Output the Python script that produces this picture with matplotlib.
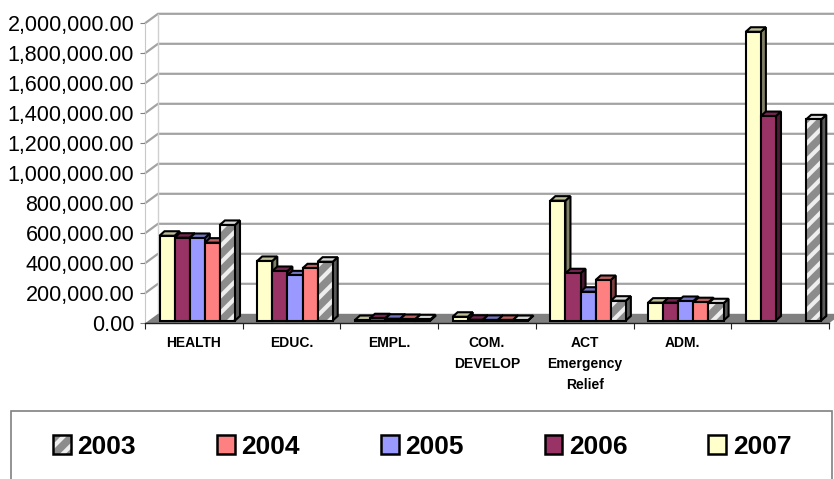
import numpy as np
import matplotlib
matplotlib.use('Agg')
import matplotlib.pyplot as plt
from matplotlib.patches import Patch, Polygon, Rectangle
from matplotlib.legend_handler import HandlerTuple

categories = ['HEALTH', 'EDUC.', 'EMPL.', 'COM.\nDEVELOP', 'ACT\nEmergency\nRelief', 'ADM.', '']
years = ['2003', '2004', '2005', '2006', '2007']

# amounts per category, nan where a year has no bar
v2007 = [565000, 397000, 3000, 25000, 799000, 119000, 1925000]
v2006 = [552000, 330000, 15000, 5000, 315000, 119000, 1363000]
v2005 = [550000, 301000, 12000, 4000, 192000, 130000, np.nan]
v2004 = [519000, 348000, 10000, 4000, 270000, 122000, np.nan]
v2003 = [637000, 392000, 8000, 3000, 132000, 115000, 1341000]
yticks = list(range(0, 2000001, 200000))

plt.rcParams['font.family'] = ['Liberation Sans', 'DejaVu Sans']
plt.rcParams['hatch.linewidth'] = 3.0

W, H = 834, 479
fig = plt.figure(figsize=(W / 100, H / 100), dpi=100)
ax = fig.add_axes([145 / W, 1 - 323.3 / H, (829 - 145) / W, 300 / H])
ax.set_xlim(0, 7)
ax.set_ylim(0, 2000000)
ax.patch.set_visible(False)

px_x = 7 / (829 - 145)
px_y = 2000000 / 300


def dark(color, k):
    r, g, b = matplotlib.colors.to_rgb(color)
    return (r * k, g * k, b * k)


# back wall, side wall and floor
wall_dx = 13 * px_x
wall_dy = 9.5 * px_y
grid_c = '#a3a3a3'
for t in yticks[1:]:
    ax.plot([0, wall_dx, 7 + wall_dx], [t, t + wall_dy, t + wall_dy], color=grid_c, lw=1.6,
            clip_on=False, zorder=1, solid_capstyle='butt')
ax.plot([wall_dx, wall_dx], [wall_dy, 2000000 + wall_dy], color='#d0d0d0', lw=1, clip_on=False, zorder=1)
ax.add_patch(Polygon([(0, 0), (wall_dx, wall_dy), (7 + wall_dx, wall_dy), (7, 0)], closed=True,
                     facecolor='#808080', edgecolor='none', clip_on=False, zorder=2))

# 3D bars, later bars overlap the sides of earlier ones
series = [(v2007, '#ffffcc', ''), (v2006, '#993366', ''), (v2005, '#9999ff', ''),
          (v2004, '#ff8080', ''), (v2003, '#8c8c8c', '//')]
bar_w = 15.1 * px_x
gap = 14.5 * px_x
base = 2.8 * px_y
dx = 5 * px_x
dy = 4.5 * px_y
edge = 1.5
z = 3
for i in range(len(categories)):
    for k, (vals, color, hatch) in enumerate(series):
        v = vals[i]
        if np.isnan(v):
            continue
        x0 = i + gap + k * bar_w
        x1 = x0 + bar_w
        top = base + v
        side_c = '#5a5a5a' if hatch else dark(color, 0.5)
        top_c = '#d9d9d9' if hatch else dark(color, 0.75)
        ax.add_patch(Polygon([(x1, base), (x1 + dx, base + dy), (x1 + dx, top + dy), (x1, top)], closed=True,
                             facecolor=side_c, edgecolor='black', lw=edge, clip_on=False, zorder=z))
        ax.add_patch(Polygon([(x0, top), (x0 + dx, top + dy), (x1 + dx, top + dy), (x1, top)], closed=True,
                             facecolor=top_c, edgecolor='black', lw=edge, clip_on=False, zorder=z))
        if hatch:
            ax.bar(x0, v, bar_w, bottom=base, align='edge', color=color, edgecolor='#eeeeee', hatch=hatch,
                   lw=0, zorder=z)
            ax.bar(x0, v, bar_w, bottom=base, align='edge', fill=False, edgecolor='black', lw=edge, zorder=z)
        else:
            ax.bar(x0, v, bar_w, bottom=base, align='edge', color=color, edgecolor='black', lw=edge, zorder=z)
        z += 1

# axes
for s in ['top', 'right']:
    ax.spines[s].set_visible(False)
ax.spines['left'].set_color('#c8c8c8')
ax.spines['bottom'].set_color('#202020')
ax.spines['bottom'].set_linewidth(1.0)
ax.set_yticks(yticks)
ax.set_yticklabels([f'{t:,.2f}' for t in yticks], fontsize=15.5)
ax.tick_params(axis='y', length=3.6, pad=4.2, color='#808080')
ax.set_xticks(range(8))
ax.set_xticklabels([])
ax.set_xticks(np.arange(7) + 0.5, minor=True)
ax.set_xticklabels(categories, minor=True, fontsize=10, fontweight='bold', linespacing=1.6)
ax.tick_params(axis='x', which='major', length=4, color='#202020')
ax.tick_params(axis='x', which='minor', length=0, pad=9.5)

# legend frame runs off the bottom edge
fig.add_artist(Rectangle((10.5 / W, -0.02), (832 - 10.5) / W, 1 - 411 / H + 0.02, transform=fig.transFigure,
                         facecolor='white', edgecolor='#808080', lw=1.2))
handles = []
for name, color, hatch in [('2003', '#8c8c8c', '//'), ('2004', '#ff8080', ''), ('2005', '#9999ff', ''),
                           ('2006', '#993366', ''), ('2007', '#ffffcc', '')]:
    if hatch:
        handles.append((Patch(facecolor=color, edgecolor='#eeeeee', hatch=hatch, lw=0),
                        Patch(fill=False, edgecolor='black', lw=1.8)))
    else:
        handles.append(Patch(facecolor=color, edgecolor='black', lw=1.8))
leg = fig.legend(handles, years, ncol=5, frameon=False, loc='center left', bbox_to_anchor=(53 / W, 1 - 447 / H),
                 borderaxespad=0, borderpad=0, prop={'size': 19, 'weight': 'bold'},
                 handlelength=0.68, handleheight=0.72, handletextpad=0.24, columnspacing=3.07,
                 handler_map={tuple: HandlerTuple(ndivide=1, pad=0)})

fig.savefig('out.png', dpi=100)
